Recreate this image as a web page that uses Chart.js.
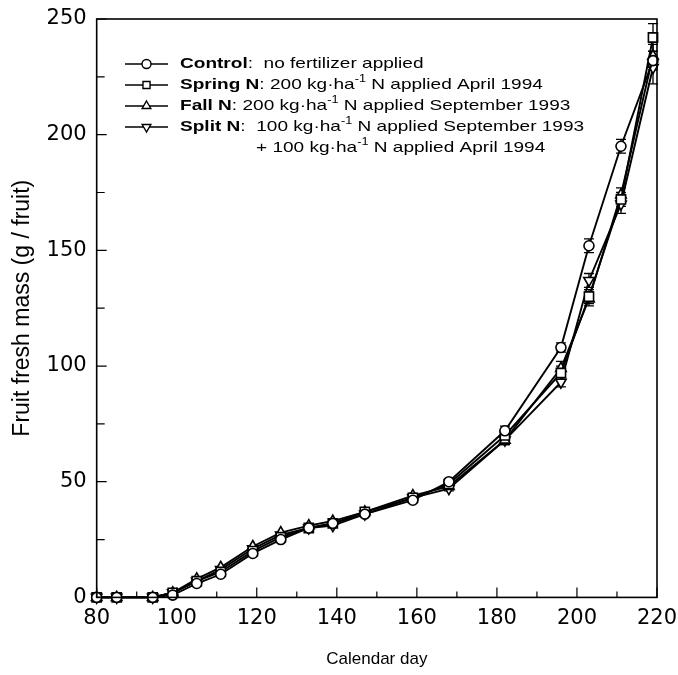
<!DOCTYPE html>
<html>
<head>
<meta charset="utf-8">
<script src="https://cdn.jsdelivr.net/npm/chart.js@4.4.0/dist/chart.umd.min.js"></script>
<style>
  html, body { margin: 0; padding: 0; background: #fff; }
  #wrap { width: 678px; height: 675px; }
</style>
</head>
<body>
<div id="wrap"><canvas id="chart" width="678" height="675"></canvas></div>
<script>
// Sampling dates (calendar day)
const days = [80, 85, 94, 99, 105, 111, 119, 126, 133, 139, 147, 159, 168, 182, 196, 203, 211, 219];

// Fruit fresh mass (g / fruit) per treatment
const controlMass = [0, 0, 0, 1, 6, 10, 19, 25, 30, 32, 36, 42, 50, 72, 108, 152, 195, 232];
const springMass  = [0, 0, 0, 2, 7, 11, 20, 26, 30, 32, 37, 43, 49, 70, 97, 130, 172, 242];
const fallMass    = [0, 0, 0, 2, 8, 13, 22, 28, 31, 33, 37, 44, 48, 68, 99, 129, 174, 234];
const splitMass   = [0, 0, 0, 2, 7, 12, 21, 27, 30, 31, 36, 43, 47, 68, 93, 137, 170, 229];

// Standard errors (approx.)
const controlErr = [0, 0, 0, 0, 0, 0, 0, 0, 0, 0, 0, 1, 1, 2, 2, 3, 3, 4];
const springErr  = [0, 0, 0, 0, 0, 0, 0, 0, 0, 0, 0, 1, 1, 2, 3, 3, 3, 6];
const fallErr    = [0, 0, 0, 0, 0, 0, 0, 0, 0, 0, 0, 1, 1, 2, 3, 3, 3, 5];
const splitErr   = [0, 0, 0, 0, 0, 0, 0, 0, 0, 0, 0, 1, 1, 2, 2, 3, 4, 7];

// Legend text
const seriesNames = ['Control', 'Spring N', 'Fall N', 'Split N'];
const seriesNotes = [
  [[':  no fertilizer applied']],
  [[': 200 kg\u00b7ha'], ['-1', 'sup'], [' N applied April 1994']],
  [[': 200 kg\u00b7ha'], ['-1', 'sup'], [' N applied September 1993']],
  [[':  100 kg\u00b7ha'], ['-1', 'sup'], [' N applied September 1993']]
];
const splitExtraLine = [['+ 100 kg\u00b7ha'], ['-1', 'sup'], [' N applied April 1994']];

const xTitle = 'Calendar day';
const yTitle = 'Fruit fresh mass (g / fruit)';

const FONT = 'Arial, "Liberation Sans", Helvetica, sans-serif';
const TICK_FONT = '"DejaVu Sans", Arial, sans-serif';

function toPoints(values) {
  return days.map((d, i) => ({ x: d, y: values[i] }));
}

function makeSet(label, values, errs, style, radius, rotation) {
  return {
    label: label,
    data: toPoints(values),
    errors: errs,
    borderColor: '#000',
    backgroundColor: '#fff',
    borderWidth: 1.9,
    pointStyle: style,
    pointRadius: radius,
    pointRotation: rotation || 0,
    pointBorderWidth: 1.6,
    pointBackgroundColor: '#fff',
    pointBorderColor: '#000',
    tension: 0,
    clip: false
  };
}

// Error bars, drawn before the markers so markers sit on top
const errorBars = {
  id: 'errorBars',
  beforeDatasetsDraw(chart) {
    const ctx = chart.ctx;
    const yScale = chart.scales.y;
    ctx.save();
    ctx.strokeStyle = '#000';
    ctx.lineWidth = 1.3;
    chart.data.datasets.forEach((ds, di) => {
      const meta = chart.getDatasetMeta(di);
      meta.data.forEach((pt, i) => {
        const e = ds.errors[i];
        if (!e) return;
        const v = ds.data[i].y;
        const top = yScale.getPixelForValue(v + e);
        const bot = yScale.getPixelForValue(v - e);
        ctx.beginPath();
        ctx.moveTo(pt.x, top); ctx.lineTo(pt.x, bot);
        ctx.moveTo(pt.x - 5, top); ctx.lineTo(pt.x + 5, top);
        ctx.moveTo(pt.x - 5, bot); ctx.lineTo(pt.x + 5, bot);
        ctx.stroke();
      });
    });
    ctx.restore();
  }
};

// Frame and inward ticks
const frameTicks = {
  id: 'frameTicks',
  afterDraw(chart) {
    const ctx = chart.ctx;
    const a = chart.chartArea;
    const xs = chart.scales.x, ys = chart.scales.y;
    ctx.save();
    ctx.strokeStyle = '#000';
    ctx.lineWidth = 1.6;
    ctx.strokeRect(a.left, a.top, a.right - a.left, a.bottom - a.top);
    ctx.lineWidth = 1.2;
    ctx.beginPath();
    for (let v = 0; v <= 250; v += 25) {
      const y = ys.getPixelForValue(v);
      const len = v % 50 === 0 ? 10 : 8;
      ctx.moveTo(a.left, y); ctx.lineTo(a.left + len, y);
    }
    for (let v = 80; v <= 220; v += 10) {
      const x = xs.getPixelForValue(v);
      const len = v % 20 === 0 ? 10 : 6;
      ctx.moveTo(x, a.bottom); ctx.lineTo(x, a.bottom - len);
    }
    ctx.stroke();
    ctx.restore();
  }
};

// Legend in the upper-left of the plot
const legendBox = {
  id: 'legendBox',
  afterDraw(chart) {
    const ctx = chart.ctx;
    const startX = 125, lineLen = 43, textX = 180, top = 64, rowH = 21;
    const stretch = 1.27;
    ctx.save();
    ctx.fillStyle = '#000';
    ctx.strokeStyle = '#000';
    ctx.textBaseline = 'middle';

    function drawSegments(segs, x, y) {
      ctx.save();
      ctx.translate(x, y);
      ctx.scale(stretch, 1);
      let cx = 0;
      segs.forEach(seg => {
        const txt = seg[0], kind = seg[1];
        if (kind === 'bold') ctx.font = 'bold 15px ' + FONT;
        else if (kind === 'sup') ctx.font = '10px ' + FONT;
        else ctx.font = '15px ' + FONT;
        ctx.fillText(txt, cx, kind === 'sup' ? -6 : 0);
        cx += ctx.measureText(txt).width;
      });
      ctx.restore();
    }

    chart.data.datasets.forEach((ds, i) => {
      const y = top + i * rowH;
      ctx.lineWidth = 1.4;
      ctx.beginPath();
      ctx.moveTo(startX, y); ctx.lineTo(startX + lineLen, y);
      ctx.stroke();
      ctx.fillStyle = '#fff';
      ctx.lineWidth = 1.4;
      Chart.helpers.drawPoint(ctx, {
        pointStyle: ds.pointStyle,
        rotation: ds.pointRotation,
        radius: ds.pointStyle === 'circle' ? 4.5 : 5,
        borderWidth: 1.4
      }, startX + lineLen / 2, y);
      ctx.fillStyle = '#000';
      drawSegments([[seriesNames[i], 'bold']].concat(seriesNotes[i]), textX, y);
    });
    drawSegments(splitExtraLine, 256, top + 4 * rowH);
    ctx.restore();
  }
};

const ctx = document.getElementById('chart').getContext('2d');
new Chart(ctx, {
  type: 'line',
  data: {
    datasets: [
      makeSet(seriesNames[0], controlMass, controlErr, 'circle', 5),
      makeSet(seriesNames[1], springMass, springErr, 'rect', 6.5),
      makeSet(seriesNames[2], fallMass, fallErr, 'triangle', 6),
      makeSet(seriesNames[3], splitMass, splitErr, 'triangle', 6, 180)
    ]
  },
  options: {
    responsive: false,
    animation: false,
    layout: { autoPadding: false, padding: { top: 19, right: 21, left: 0, bottom: 0 } },
    plugins: {
      legend: { display: false },
      tooltip: { enabled: false }
    },
    scales: {
      x: {
        type: 'linear',
        min: 80,
        max: 220,
        // let the end labels hang past the frame, as in the original
        afterFit(scale) { scale.paddingLeft = 0; scale.paddingRight = 0; },
        grid: { display: false, drawTicks: false },
        border: { display: false },
        ticks: {
          stepSize: 20,
          color: '#000',
          padding: 9,
          font: { family: TICK_FONT, size: 21 },
          maxRotation: 0
        },
        title: {
          display: true,
          text: xTitle,
          color: '#000',
          font: { family: FONT, size: 17 },
          padding: { top: 9, bottom: 5 }
        }
      },
      y: {
        min: 0,
        max: 250,
        afterFit(scale) { scale.paddingTop = 0; scale.paddingBottom = 0; },
        grid: { display: false, drawTicks: false },
        border: { display: false },
        ticks: {
          stepSize: 50,
          color: '#000',
          padding: 10,
          font: { family: TICK_FONT, size: 21 }
        },
        title: {
          display: true,
          text: yTitle,
          color: '#000',
          font: { family: FONT, size: 23 },
          padding: { top: 9, bottom: 0 }
        }
      }
    }
  },
  plugins: [errorBars, frameTicks, legendBox]
});
</script>
</body>
</html>
